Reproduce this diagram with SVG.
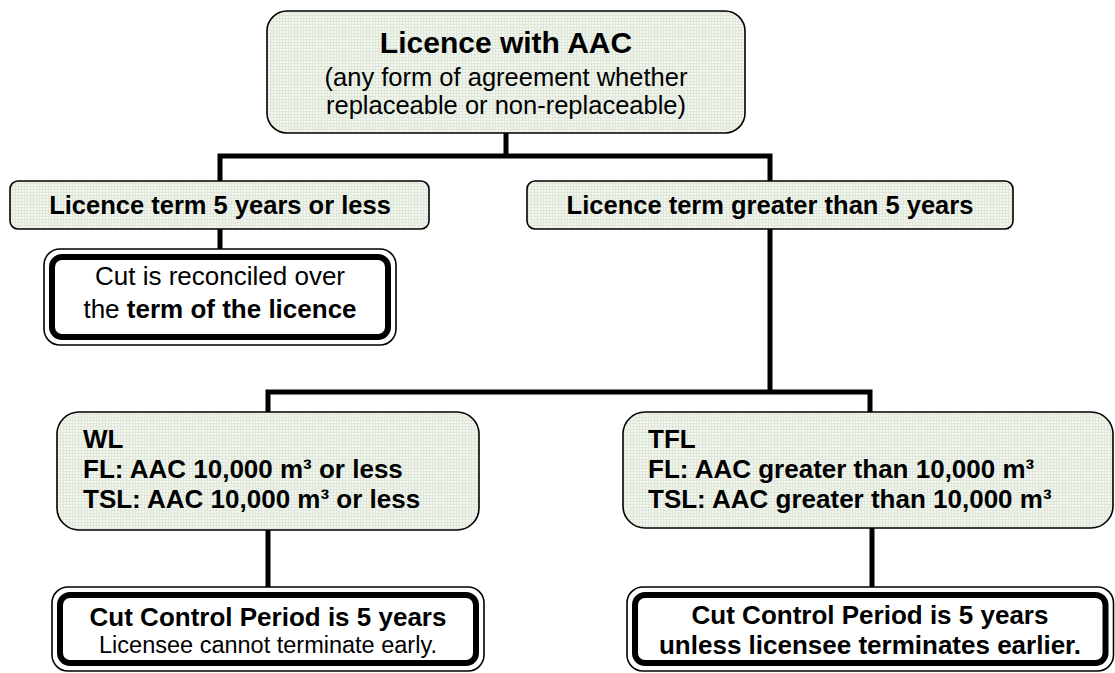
<svg xmlns="http://www.w3.org/2000/svg" width="1115" height="673" viewBox="0 0 1115 673">
<defs>
<pattern id="grid" width="3" height="3" patternUnits="userSpaceOnUse">
<rect width="3" height="3" fill="#f3f6f0"/>
<rect width="3" height="1" fill="#dfe7d9"/>
<rect width="1" height="3" fill="#dfe7d9"/>
</pattern>
<style>
.soft{fill:url(#grid);stroke:#000;stroke-width:1.6}
.outer{fill:#fff;stroke:#000;stroke-width:1.6}
.inner{fill:none;stroke:#000;stroke-width:6}
.conn{fill:none;stroke:#000;stroke-width:5;stroke-linejoin:miter;stroke-linecap:butt}
text{font-family:"Liberation Sans",Arial,sans-serif;fill:#000}
.b{font-weight:bold}
.t26{font-size:26px}
.t25{font-size:25.5px}
.t23{font-size:23.5px}
.title{font-size:30px;font-weight:bold}
.c{text-anchor:middle}
</style>
</defs>
<rect width="1115" height="673" fill="#fff"/>
<g id="connectors">
<path class="conn" d="M506,133 V156 M220,181 V156 H770 V181 M220,229 V249 M770,229 V392 M268,412 V392 H870 V412 M268,530 V587 M872,528 V587"/>
</g>
<g id="root">
<rect class="soft" x="267" y="11" width="478" height="122" rx="20"/>
<text class="title c" x="506" y="53">Licence with AAC</text>
<text class="t25 c" x="506" y="86">(any form of agreement whether</text>
<text class="t25 c" x="506" y="114">replaceable or non-replaceable)</text>
</g>
<g id="short-term">
<rect class="soft" x="10" y="181" width="419" height="48" rx="8"/>
<text class="t25 b c" x="220" y="214">Licence term 5 years or less</text>
</g>
<g id="long-term">
<rect class="soft" x="527" y="181" width="486" height="48" rx="8"/>
<text class="t25 b c" x="770" y="214">Licence term greater than 5 years</text>
</g>
<g id="reconciled">
<rect class="outer" x="44" y="249" width="352" height="96" rx="16"/>
<rect class="inner" x="52" y="257" width="336" height="80" rx="10"/>
<text class="t26 c" x="220" y="285">Cut is reconciled over</text>
<text class="t26 c" x="220" y="318">the <tspan class="b">term of the licence</tspan></text>
</g>
<g id="small-aac">
<rect class="soft" x="57" y="412" width="422" height="118" rx="22"/>
<text class="t26 b" x="83" y="448">WL</text>
<text class="t26 b" x="83" y="478">FL: AAC 10,000 m³ or less</text>
<text class="t26 b" x="83" y="508">TSL: AAC 10,000 m³ or less</text>
</g>
<g id="large-aac">
<rect class="soft" x="623" y="412" width="490" height="116" rx="22"/>
<text class="t26 b" x="648" y="448">TFL</text>
<text class="t26 b" x="648" y="478">FL: AAC greater than 10,000 m³</text>
<text class="t26 b" x="648" y="508">TSL: AAC greater than 10,000 m³</text>
</g>
<g id="ccp-fixed">
<rect class="outer" x="52" y="587" width="432" height="84" rx="16"/>
<rect class="inner" x="60" y="595" width="416" height="68" rx="10"/>
<text class="t26 b c" x="268" y="626">Cut Control Period is 5 years</text>
<text class="t23 c" x="268" y="653">Licensee cannot terminate early.</text>
</g>
<g id="ccp-terminable">
<rect class="outer" x="627" y="587" width="486.5" height="84" rx="16"/>
<rect class="inner" x="635" y="595" width="470.5" height="68" rx="10"/>
<text class="t26 b c" x="870" y="624">Cut Control Period is 5 years</text>
<text class="t26 b c" x="870" y="654">unless licensee terminates earlier.</text>
</g>
</svg>
